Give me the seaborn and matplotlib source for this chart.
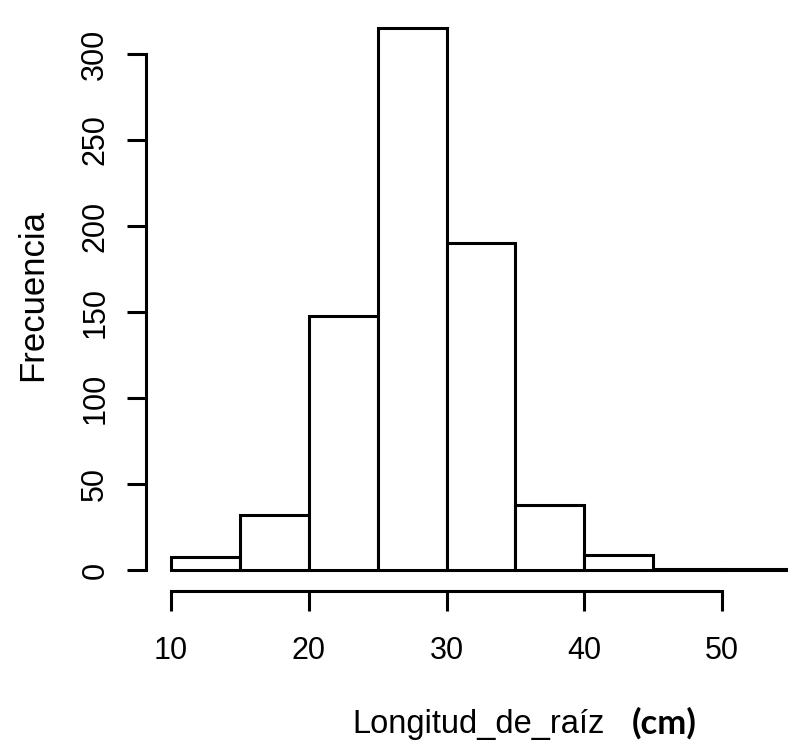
import numpy as np
import pandas as pd
import matplotlib
matplotlib.use("Agg")
import matplotlib.pyplot as plt
import seaborn as sns

bin_edges = [10, 15, 20, 25, 30, 35, 40, 45, 50, 55]
counts = [8, 32, 148, 315, 190, 38, 9, 1, 1]
x_ticks = [10, 20, 30, 40, 50]
y_ticks = [0, 50, 100, 150, 200, 250, 300]

sns.set_style("white")
plt.rcParams["font.family"] = ["Liberation Sans", "DejaVu Sans"]
plt.rcParams["text.color"] = "black"
plt.rcParams["xtick.color"] = "black"
plt.rcParams["ytick.color"] = "black"
plt.rcParams["axes.edgecolor"] = "black"

W, H = 788, 748
fig = plt.figure(figsize=(W / 100, H / 100), dpi=100)

# pixel geometry
px_per_x = (722 - 171) / 40.0
px_per_y = (570.3 - 54) / 300.0
ax_left_px, ax_right_px = 146, 788
ax_top_px, ax_bot_px = 15, 591
xlo = 10 - (171 - ax_left_px) / px_per_x
xhi = 50 + (ax_right_px - 722) / px_per_x
ylo = -(ax_bot_px - 570.3) / px_per_y
yhi = (570.3 - ax_top_px) / px_per_y

ax = fig.add_axes([ax_left_px / W, 1 - ax_bot_px / H,
                   (ax_right_px - ax_left_px) / W, (ax_bot_px - ax_top_px) / H])

mids = [(a + b) / 2 for a, b in zip(bin_edges[:-1], bin_edges[1:])]
df = pd.DataFrame({"x": mids, "w": counts})
sns.histplot(data=df, x="x", weights="w", bins=bin_edges, ax=ax,
             color="white", edgecolor="black", linewidth=2.2, alpha=1)

ax.set_xlim(xlo, xhi)
ax.set_ylim(ylo, yhi)
for s in ["top", "right"]:
    ax.spines[s].set_visible(False)
ax.spines["left"].set_bounds(0, 300)
ax.spines["bottom"].set_bounds(10, 50)
ax.spines["left"].set_linewidth(2.2)
ax.spines["bottom"].set_linewidth(2.2)
ax.set_xticks(x_ticks)
ax.set_yticks(y_ticks)
ax.set_yticklabels([str(v) for v in y_ticks], rotation=90, va="center")
ax.tick_params(axis="x", bottom=True, length=14.5, width=2.2, direction="out",
               labelsize=22, pad=18, colors="black")
ax.tick_params(axis="y", left=True, length=13.7, width=2.2, direction="out",
               labelsize=22, pad=12, colors="black")
ax.set_xlabel("")
ax.set_ylabel("")
ax.patch.set_alpha(0)

fig.text(33 / W, 1 - 295 / H, "Frecuencia", rotation=90, ha="center", va="center", fontsize=25)
fig.text(605 / W, 1 - 725 / H, "Longitud_de_raíz", ha="right", va="center", fontsize=23.5)
fig.text(632 / W, 1 - 723 / H, "(cm)", ha="left", va="center", fontsize=25,
         fontweight="bold", family=["Lato", "DejaVu Sans"])

fig.savefig("out.png", dpi=100)
